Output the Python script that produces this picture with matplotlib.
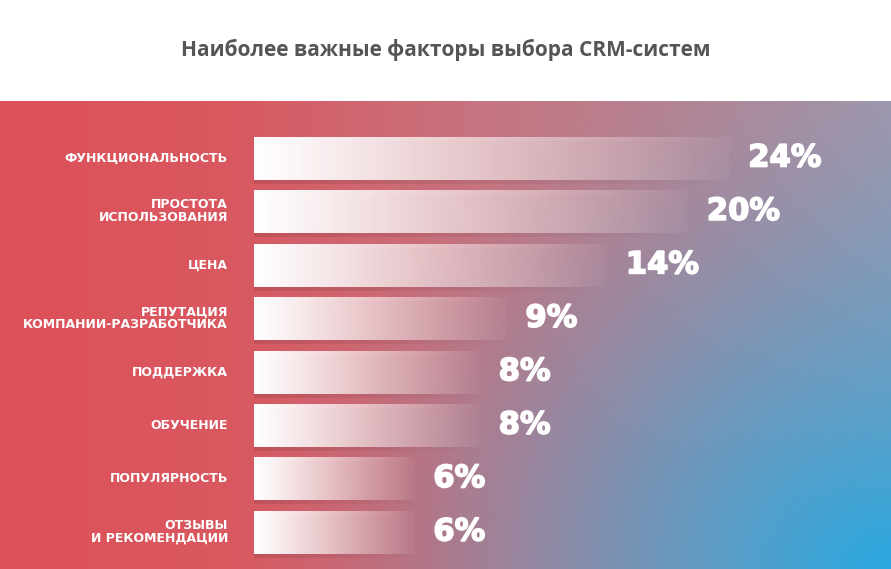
import numpy as np
import matplotlib
matplotlib.use("Agg")
import matplotlib.pyplot as plt
import matplotlib.transforms as mtransforms
import matplotlib.patheffects as pe

# data
factors = [
    "ФУНКЦИОНАЛЬНОСТЬ",
    "ПРОСТОТА\nИСПОЛЬЗОВАНИЯ",
    "ЦЕНА",
    "РЕПУТАЦИЯ\nКОМПАНИИ-РАЗРАБОТЧИКА",
    "ПОДДЕРЖКА",
    "ОБУЧЕНИЕ",
    "ПОПУЛЯРНОСТЬ",
    "ОТЗЫВЫ\nИ РЕКОМЕНДАЦИИ",
]
shares = [24, 20, 14, 9, 8, 8, 6, 6]
title = "Наиболее важные факторы выбора CRM-систем"

# layout
W, H = 891, 569
band_top = 101          # px from top where coloured band starts
x_left, x_right = 2.95, 48.7   # log axis limits
bar_h = 0.82

fig = plt.figure(figsize=(W / 100, H / 100), dpi=100)
fig.patch.set_facecolor("white")

# background: red -> dusty mauve left to right, blue glow from bottom-right
band_h = H - band_top
xs = np.linspace(0, W, W)
ys = np.linspace(0, band_h, band_h)
stop_x = [0, 230, 480, 700, W]
stop_c = np.array([[221, 80, 88], [217, 88, 96], [198, 116, 128],
                   [178, 134, 150], [160, 150, 171]]) / 255
base = np.stack([np.interp(xs, stop_x, stop_c[:, i]) for i in range(3)], axis=-1)
base = np.repeat(base[None, :, :], len(ys), axis=0)
blue = np.array([42, 168, 224]) / 255
dx = (W - xs)[None, :] / 650
dy = (band_h - ys)[:, None] / 520
glow = np.clip(1 - np.sqrt(dx ** 2 + dy ** 2), 0, 1) ** 1.5
img = base * (1 - glow[..., None]) + blue * glow[..., None]

bg = fig.add_axes([0, 0, 1, band_h / H])
bg.set_axis_off()
bg.imshow(img, extent=(0, 1, 1, 0), aspect="auto", interpolation="bilinear")
bg.set_xlim(0, 1)
bg.set_ylim(1, 0)

# title
fig.text(0.5, 1 - 50 / H, title, ha="center", va="center", fontsize=15,
         fontweight="bold", color="#555555", family="Open Sans")

# bars axis
top_px, bot_px = 131.3, 558.7
ax = fig.add_axes([254 / W, (H - bot_px) / H, (W - 254) / W, (bot_px - top_px) / H])
ax.set_axis_off()
ax.patch.set_alpha(0)
ax.set_xscale("log")
ax.set_xlim(x_left, x_right)
ax.set_ylim(len(shares) - 0.5, -0.5)

rows = np.arange(len(shares))
bars = ax.barh(rows, [s - x_left for s in shares], left=x_left, height=bar_h,
               facecolor="none", linewidth=0)

blend = mtransforms.blended_transform_factory(ax.transAxes, ax.transData)
to_axes = ax.transAxes.inverted()

t = np.linspace(0, 1, 256)
white = np.ones((1, 256, 4))
white[..., 3] = np.clip(0.97 * (1 - t ** 1.2) + 0.03, 0, 1)
black = np.zeros((1, 256, 4))
black[..., 3] = 0.10 * (1 - t ** 1.2)

shadow_dy = 4 / 53.4
for r, s, b in zip(rows, shares, bars):
    fx = to_axes.transform(ax.transData.transform((s, r)))[0]
    ax.imshow(black, extent=(0, fx, r + bar_h / 2 + shadow_dy, r - bar_h / 2 + shadow_dy),
              transform=blend, aspect="auto", interpolation="bilinear", zorder=1)
    ax.imshow(white, extent=(0, fx, r + bar_h / 2, r - bar_h / 2),
              transform=blend, aspect="auto", interpolation="bilinear", zorder=2)
    ax.annotate(f"{s}%", (s, r), xytext=(13, 0), textcoords="offset points",
                ha="left", va="center", fontsize=22, fontweight="bold",
                color="white", family="DejaVu Sans", zorder=3,
                path_effects=[pe.withStroke(linewidth=1.2, foreground="white")])

ax.set_xlim(x_left, x_right)
ax.set_ylim(len(shares) - 0.5, -0.5)

# category labels to the left of bars
for r, lab in zip(rows, factors):
    ax.annotate(lab, (0, r), xycoords=blend, xytext=(-26, 0), textcoords="offset pixels",
                ha="right", va="center", fontsize=9, fontweight="bold",
                color="white", family="DejaVu Sans", linespacing=1.0,
                multialignment="right", annotation_clip=False)

fig.savefig("out.png", dpi=100, facecolor=fig.get_facecolor())
